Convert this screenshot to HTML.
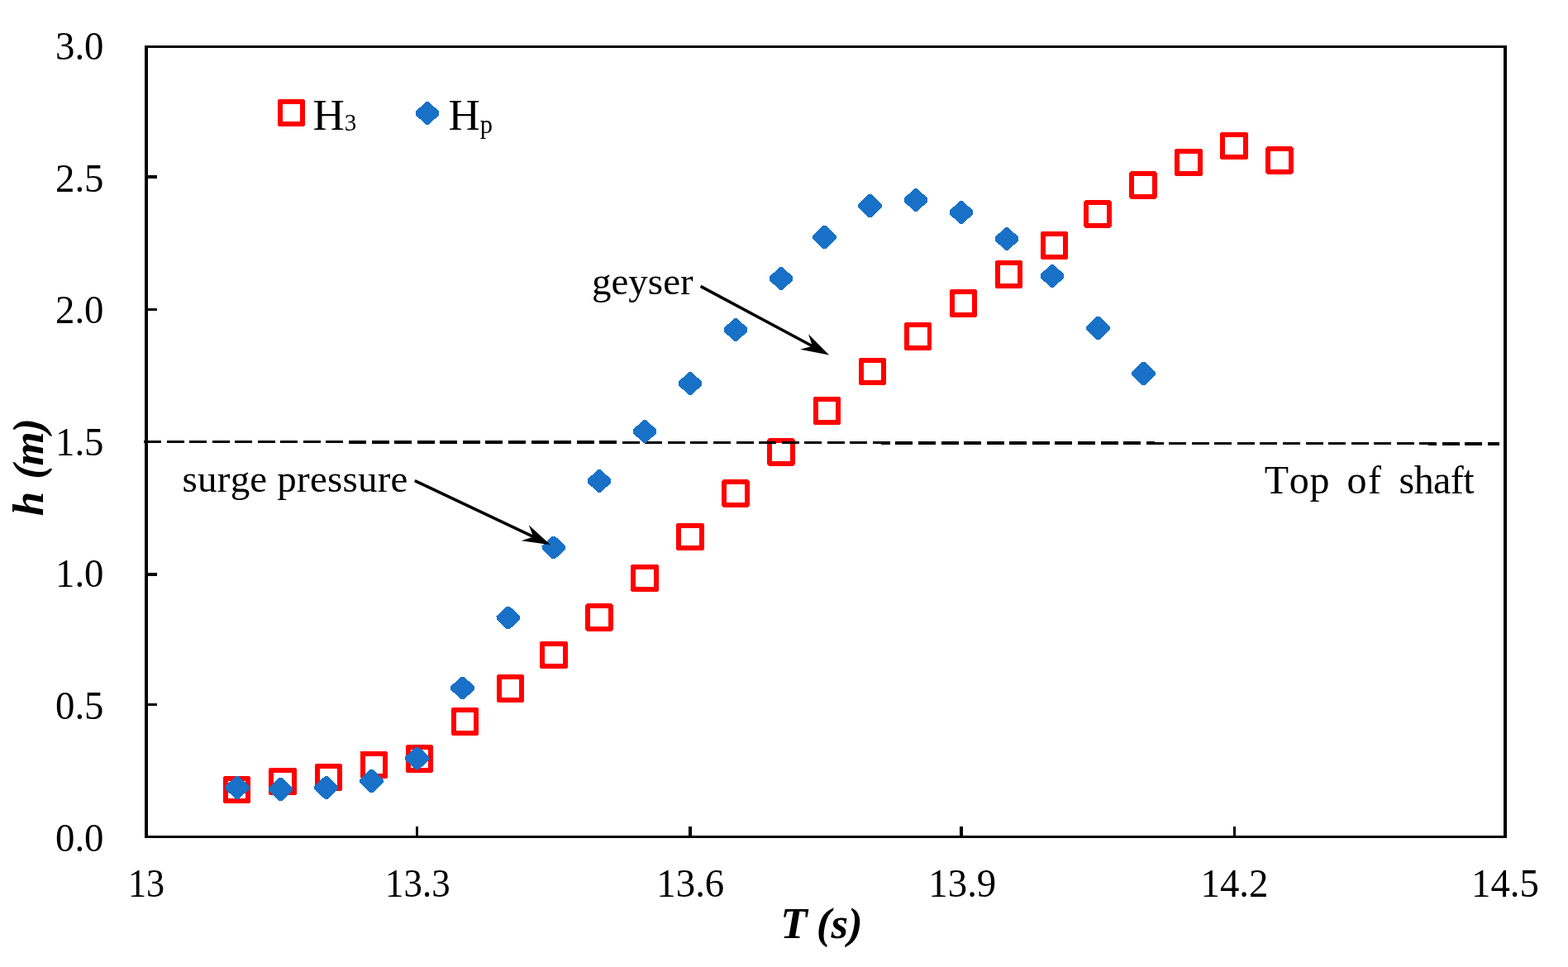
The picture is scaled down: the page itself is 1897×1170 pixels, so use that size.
<!DOCTYPE html>
<html lang="en"><head><meta charset="utf-8"><title>h (m) vs T (s)</title>
<style>
html,body{margin:0;padding:0;background:#fff;}
body{width:1897px;height:1170px;overflow:hidden;}
svg{display:block;}
text{font-family:"Liberation Serif","Times New Roman",serif;fill:#000;font-kerning:none;}
.tk{font-size:48px;}
.lg{font-size:53px;}
.ax{font-size:53px;font-weight:bold;font-style:italic;}
.an{font-size:47px;}
</style></head><body>
<svg width="1897" height="1170" viewBox="0 0 1897 1170">
<rect width="1897" height="1170" fill="#ffffff"/>
<g fill="#000" shape-rendering="crispEdges">
<rect x="175" y="55" width="1648" height="3"/>
<rect x="175" y="1011" width="1648" height="3"/>
<rect x="175" y="55" width="4" height="959"/>
<rect x="1819" y="55" width="4" height="959"/>
<rect x="179" y="212" width="11" height="4"/>
<rect x="179" y="373" width="11" height="3"/>
<rect x="179" y="533" width="11" height="3"/>
<rect x="179" y="693" width="11" height="4"/>
<rect x="179" y="851" width="11" height="3"/>
<rect x="503" y="1000" width="3" height="11"/>
<rect x="833" y="1000" width="4" height="11"/>
<rect x="1161" y="1000" width="4" height="11"/>
<rect x="1492" y="1000" width="3" height="11"/>
</g>
<g fill="#ff0000" fill-rule="evenodd" shape-rendering="crispEdges">
<path d="M271.5 938.6L301.5 938.6L303.3 940.4L303.3 970.4L301.5 972.2L271.5 972.2L269.7 970.4L269.7 940.4ZM275.6 944.5L275.6 966.3L297.4 966.3L297.4 944.5Z"/>
<path d="M327.0 928.7L357.0 928.7L358.8 930.5L358.8 960.5L357.0 962.3L327.0 962.3L325.2 960.5L325.2 930.5ZM331.1 934.6L331.1 956.4L352.9 956.4L352.9 934.6Z"/>
<path d="M382.5 923.6L412.5 923.6L414.3 925.4L414.3 955.4L412.5 957.2L382.5 957.2L380.7 955.4L380.7 925.4ZM386.6 929.5L386.6 951.3L408.4 951.3L408.4 929.5Z"/>
<path d="M437.4 908.6L467.4 908.6L469.2 910.4L469.2 940.4L467.4 942.2L437.4 942.2L435.6 940.4L435.6 910.4ZM441.5 914.5L441.5 936.3L463.3 936.3L463.3 914.5Z"/>
<path d="M492.5 901.1L522.5 901.1L524.3 902.9L524.3 932.9L522.5 934.7L492.5 934.7L490.7 932.9L490.7 902.9ZM496.6 907.0L496.6 928.8L518.4 928.8L518.4 907.0Z"/>
<path d="M547.5 856.2L577.5 856.2L579.3 858.0L579.3 888.0L577.5 889.8L547.5 889.8L545.7 888.0L545.7 858.0ZM551.6 862.1L551.6 883.9L573.4 883.9L573.4 862.1Z"/>
<path d="M602.5 816.2L632.5 816.2L634.3 818.0L634.3 848.0L632.5 849.8L602.5 849.8L600.7 848.0L600.7 818.0ZM606.6 822.1L606.6 843.9L628.4 843.9L628.4 822.1Z"/>
<path d="M655.0 775.7L685.0 775.7L686.8 777.5L686.8 807.5L685.0 809.3L655.0 809.3L653.2 807.5L653.2 777.5ZM659.1 781.6L659.1 803.4L680.9 803.4L680.9 781.6Z"/>
<path d="M710.0 730.2L740.0 730.2L741.8 732.0L741.8 762.0L740.0 763.8L710.0 763.8L708.2 762.0L708.2 732.0ZM714.1 736.1L714.1 757.9L735.9 757.9L735.9 736.1Z"/>
<path d="M765.0 682.7L795.0 682.7L796.8 684.5L796.8 714.5L795.0 716.3L765.0 716.3L763.2 714.5L763.2 684.5ZM769.1 688.6L769.1 710.4L790.9 710.4L790.9 688.6Z"/>
<path d="M820.0 632.7L850.0 632.7L851.8 634.5L851.8 664.5L850.0 666.3L820.0 666.3L818.2 664.5L818.2 634.5ZM824.1 638.6L824.1 660.4L845.9 660.4L845.9 638.6Z"/>
<path d="M875.0 580.2L905.0 580.2L906.8 582.0L906.8 612.0L905.0 613.8L875.0 613.8L873.2 612.0L873.2 582.0ZM879.1 586.1L879.1 607.9L900.9 607.9L900.9 586.1Z"/>
<path d="M930.0 530.2L960.0 530.2L961.8 532.0L961.8 562.0L960.0 563.8L930.0 563.8L928.2 562.0L928.2 532.0ZM934.1 536.1L934.1 557.9L955.9 557.9L955.9 536.1Z"/>
<path d="M985.5 480.2L1015.5 480.2L1017.3 482.0L1017.3 512.0L1015.5 513.8L985.5 513.8L983.7 512.0L983.7 482.0ZM989.6 486.1L989.6 507.9L1011.4 507.9L1011.4 486.1Z"/>
<path d="M1040.5 432.7L1070.5 432.7L1072.3 434.5L1072.3 464.5L1070.5 466.3L1040.5 466.3L1038.7 464.5L1038.7 434.5ZM1044.6 438.6L1044.6 460.4L1066.4 460.4L1066.4 438.6Z"/>
<path d="M1095.6 390.2L1125.6 390.2L1127.4 392.0L1127.4 422.0L1125.6 423.8L1095.6 423.8L1093.8 422.0L1093.8 392.0ZM1099.7 396.1L1099.7 417.9L1121.5 417.9L1121.5 396.1Z"/>
<path d="M1150.5 350.2L1180.5 350.2L1182.3 352.0L1182.3 382.0L1180.5 383.8L1150.5 383.8L1148.7 382.0L1148.7 352.0ZM1154.6 356.1L1154.6 377.9L1176.4 377.9L1176.4 356.1Z"/>
<path d="M1205.5 315.2L1235.5 315.2L1237.3 317.0L1237.3 347.0L1235.5 348.8L1205.5 348.8L1203.7 347.0L1203.7 317.0ZM1209.6 321.1L1209.6 342.9L1231.4 342.9L1231.4 321.1Z"/>
<path d="M1260.5 280.2L1290.5 280.2L1292.3 282.0L1292.3 312.0L1290.5 313.8L1260.5 313.8L1258.7 312.0L1258.7 282.0ZM1264.6 286.1L1264.6 307.9L1286.4 307.9L1286.4 286.1Z"/>
<path d="M1313.0 242.2L1343.0 242.2L1344.8 244.0L1344.8 274.0L1343.0 275.8L1313.0 275.8L1311.2 274.0L1311.2 244.0ZM1317.1 248.1L1317.1 269.9L1338.9 269.9L1338.9 248.1Z"/>
<path d="M1368.0 207.2L1398.0 207.2L1399.8 209.0L1399.8 239.0L1398.0 240.8L1368.0 240.8L1366.2 239.0L1366.2 209.0ZM1372.1 213.1L1372.1 234.9L1393.9 234.9L1393.9 213.1Z"/>
<path d="M1423.0 179.7L1453.0 179.7L1454.8 181.5L1454.8 211.5L1453.0 213.3L1423.0 213.3L1421.2 211.5L1421.2 181.5ZM1427.1 185.6L1427.1 207.4L1448.9 207.4L1448.9 185.6Z"/>
<path d="M1478.0 159.7L1508.0 159.7L1509.8 161.5L1509.8 191.5L1508.0 193.3L1478.0 193.3L1476.2 191.5L1476.2 161.5ZM1482.1 165.6L1482.1 187.4L1503.9 187.4L1503.9 165.6Z"/>
<path d="M1533.0 177.2L1563.0 177.2L1564.8 179.0L1564.8 209.0L1563.0 210.8L1533.0 210.8L1531.2 209.0L1531.2 179.0ZM1537.1 183.1L1537.1 204.9L1558.9 204.9L1558.9 183.1Z"/>
<path d="M337.4 119.7L367.4 119.7L369.2 121.5L369.2 151.5L367.4 153.3L337.4 153.3L335.6 151.5L335.6 121.5ZM341.5 125.6L341.5 147.4L363.3 147.4L363.3 125.6Z"/>
</g>
<line x1="174" y1="534.39" x2="1814" y2="536.89" stroke="#000" stroke-width="3.5" stroke-dasharray="21 6.56" shape-rendering="crispEdges"/>
<g fill="#1871c6" shape-rendering="crispEdges">
<path d="M285.1 939.3L288.9 939.3L301.3 951.0L301.3 955.0L288.9 966.7L285.1 966.7L272.7 955.0L272.7 951.0Z"/>
<path d="M337.6 941.3L341.4 941.3L353.8 953.0L353.8 957.0L341.4 968.7L337.6 968.7L325.2 957.0L325.2 953.0Z"/>
<path d="M392.8 939.3L396.6 939.3L409.0 951.0L409.0 955.0L396.6 966.7L392.8 966.7L380.4 955.0L380.4 951.0Z"/>
<path d="M447.7 931.3L451.5 931.3L463.9 943.0L463.9 947.0L451.5 958.7L447.7 958.7L435.3 947.0L435.3 943.0Z"/>
<path d="M502.8 903.8L506.6 903.8L519.0 915.5L519.0 919.5L506.6 931.2L502.8 931.2L490.4 919.5L490.4 915.5Z"/>
<path d="M557.7 818.8L561.5 818.8L573.9 830.5L573.9 834.5L561.5 846.2L557.7 846.2L545.3 834.5L545.3 830.5Z"/>
<path d="M612.9 733.8L616.7 733.8L629.1 745.5L629.1 749.5L616.7 761.2L612.9 761.2L600.5 749.5L600.5 745.5Z"/>
<path d="M667.9 648.8L671.7 648.8L684.1 660.5L684.1 664.5L671.7 676.2L667.9 676.2L655.5 664.5L655.5 660.5Z"/>
<path d="M723.1 568.3L726.9 568.3L739.3 580.0L739.3 584.0L726.9 595.7L723.1 595.7L710.7 584.0L710.7 580.0Z"/>
<path d="M778.1 508.3L781.9 508.3L794.3 520.0L794.3 524.0L781.9 535.7L778.1 535.7L765.7 524.0L765.7 520.0Z"/>
<path d="M833.1 450.3L836.9 450.3L849.3 462.0L849.3 466.0L836.9 477.7L833.1 477.7L820.7 466.0L820.7 462.0Z"/>
<path d="M888.1 385.3L891.9 385.3L904.3 397.0L904.3 401.0L891.9 412.7L888.1 412.7L875.7 401.0L875.7 397.0Z"/>
<path d="M943.1 323.3L946.9 323.3L959.3 335.0L959.3 339.0L946.9 350.7L943.1 350.7L930.7 339.0L930.7 335.0Z"/>
<path d="M995.6 273.3L999.4 273.3L1011.8 285.0L1011.8 289.0L999.4 300.7L995.6 300.7L983.2 289.0L983.2 285.0Z"/>
<path d="M1050.7 235.3L1054.5 235.3L1066.9 247.0L1066.9 251.0L1054.5 262.7L1050.7 262.7L1038.3 251.0L1038.3 247.0Z"/>
<path d="M1106.1 228.3L1109.9 228.3L1122.3 240.0L1122.3 244.0L1109.9 255.7L1106.1 255.7L1093.7 244.0L1093.7 240.0Z"/>
<path d="M1161.1 243.3L1164.9 243.3L1177.3 255.0L1177.3 259.0L1164.9 270.7L1161.1 270.7L1148.7 259.0L1148.7 255.0Z"/>
<path d="M1216.1 275.3L1219.9 275.3L1232.3 287.0L1232.3 291.0L1219.9 302.7L1216.1 302.7L1203.7 291.0L1203.7 287.0Z"/>
<path d="M1271.1 320.3L1274.9 320.3L1287.3 332.0L1287.3 336.0L1274.9 347.7L1271.1 347.7L1258.7 336.0L1258.7 332.0Z"/>
<path d="M1326.6 383.3L1330.4 383.3L1342.8 395.0L1342.8 399.0L1330.4 410.7L1326.6 410.7L1314.2 399.0L1314.2 395.0Z"/>
<path d="M1381.6 438.3L1385.4 438.3L1397.8 450.0L1397.8 454.0L1385.4 465.7L1381.6 465.7L1369.2 454.0L1369.2 450.0Z"/>
<path d="M515.1 123.3L518.9 123.3L531.3 135.0L531.3 139.0L518.9 150.7L515.1 150.7L502.7 139.0L502.7 135.0Z"/>
</g>
<line x1="847.60" y1="346.40" x2="982.82" y2="418.75" stroke="#000" stroke-width="3.6"/><path d="M1003.10 429.60L968.17 422.82L982.82 418.75L978.07 404.30Z" fill="#000"/>
<line x1="501.80" y1="581.60" x2="645.21" y2="649.46" stroke="#000" stroke-width="3.6"/><path d="M666.00 659.30L630.78 654.25L645.21 649.46L639.76 635.27Z" fill="#000"/>
<text class="tk" transform="translate(125.5 71.5) scale(0.975 1)" text-anchor="end">3.0</text>
<text class="tk" transform="translate(125.5 231.6) scale(0.975 1)" text-anchor="end">2.5</text>
<text class="tk" transform="translate(125.5 390.9) scale(0.975 1)" text-anchor="end">2.0</text>
<text class="tk" transform="translate(125.5 550.9) scale(0.975 1)" text-anchor="end">1.5</text>
<text class="tk" transform="translate(125.5 710.1) scale(0.975 1)" text-anchor="end">1.0</text>
<text class="tk" transform="translate(125.5 869.6) scale(0.975 1)" text-anchor="end">0.5</text>
<text class="tk" transform="translate(125.5 1029.8) scale(0.975 1)" text-anchor="end">0.0</text>
<text class="tk" transform="translate(177.0 1084.9) scale(0.92 1)" text-anchor="middle">13</text>
<text class="tk" transform="translate(505.3 1084.9) scale(0.935 1)" text-anchor="middle">13.3</text>
<text class="tk" transform="translate(835.3 1084.9) scale(0.975 1)" text-anchor="middle">13.6</text>
<text class="tk" transform="translate(1164.3 1084.9) scale(0.975 1)" text-anchor="middle">13.9</text>
<text class="tk" transform="translate(1493.5 1084.9) scale(0.975 1)" text-anchor="middle">14.2</text>
<text class="tk" transform="translate(1821 1084.9) scale(0.975 1)" text-anchor="middle">14.5</text>
<text class="lg" x="378.5" y="156.9">H<tspan font-size="29px" dy="1">3</tspan></text>
<text class="lg" x="542.5" y="156.9">H<tspan font-size="30.5px" dy="4.2">p</tspan></text>
<text class="ax" y="1134.8"><tspan x="944.2">T</tspan> <tspan x="987.8">(s)</tspan></text>
<text class="ax" transform="translate(52 624.3) rotate(-90)"><tspan x="0">h</tspan> <tspan x="44.6" style="letter-spacing:-1.5px">(m)</tspan></text>
<text class="an" x="716" y="356.2">geyser</text>
<text class="an" x="220.6" y="594.8" style="letter-spacing:0.2px">surge pressure</text>
<text class="an" y="597.3" style="font-size:48px"><tspan x="1529.8" style="letter-spacing:0.7px">Top</tspan> <tspan x="1629.6" style="letter-spacing:1.5px">of</tspan> <tspan x="1692.6" style="letter-spacing:-0.6px">shaft</tspan></text>
</svg></body></html>
